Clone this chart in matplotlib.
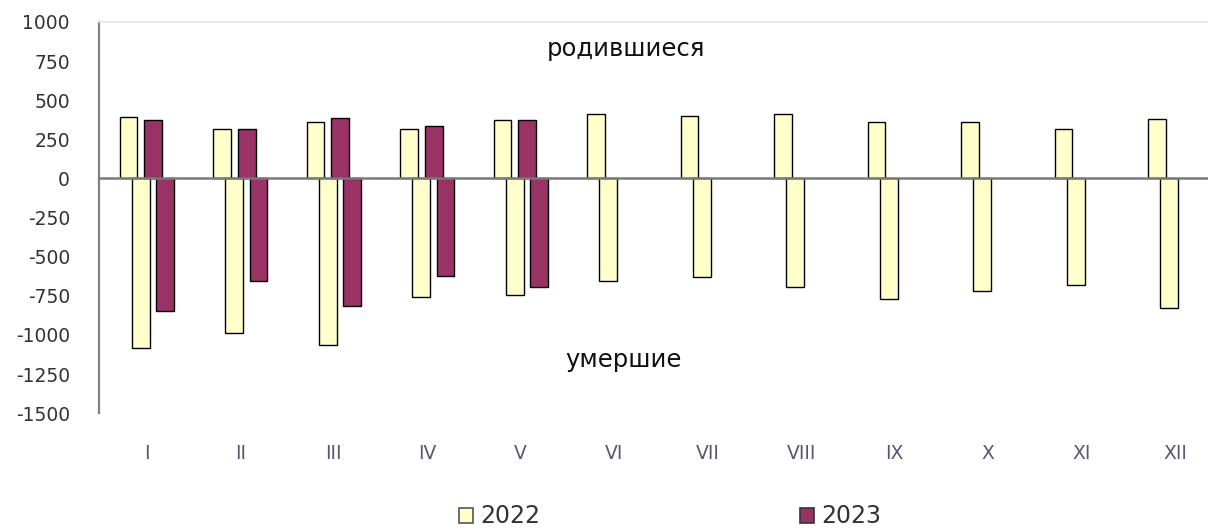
import numpy as np
import matplotlib.pyplot as plt
from matplotlib.patches import Patch

# -----------------------------
# data
# -----------------------------
months = ["I", "II", "III", "IV", "V", "VI", "VII", "VIII", "IX", "X", "XI", "XII"]
births_2022 = [395, 318, 361, 318, 372, 410, 397, 410, 361, 361, 318, 383]
births_2023 = [374, 318, 385, 333, 372]
deaths_2022 = [-1085, -989, -1064, -758, -746, -656, -632, -697, -769, -720, -681, -831]
deaths_2023 = [-846, -656, -818, -622, -694]
years = ["2022", "2023"]

col_2022 = "#FFFFCC"
col_2023 = "#993366"

plt.rcParams['font.family'] = ['DejaVu Sans']
plt.rcParams['axes.unicode_minus'] = False

fig = plt.figure(figsize=(12.08, 5.31), dpi=100)
ax = fig.add_axes([0.082, 0.222, 0.918, 0.7366])

x = np.arange(len(months))
w = 0.19
kw = dict(width=w, edgecolor="black", linewidth=1.0, zorder=3)

# births above zero, deaths below, each year slightly shifted
ax.bar(x - 0.195, births_2022, color=col_2022, **kw)
ax.bar(x - 0.065, deaths_2022, color=col_2022, **kw)
x23 = np.arange(len(births_2023))
ax.bar(x23 + 0.07, births_2023, color=col_2023, **kw)
ax.bar(x23 + 0.195, deaths_2023, color=col_2023, **kw)

ax.axhline(0, color="#7a7a7a", linewidth=1.8, zorder=4)

ax.set_xlim(-0.51, 11.35)
ax.set_ylim(-1500, 1000)
ax.set_yticks(np.arange(-1500, 1001, 250))
ax.set_xticks(x)
ax.set_xticklabels(months)

ax.tick_params(axis="y", length=0, pad=21, labelsize=13.5, labelcolor="#333333")
ax.tick_params(axis="x", length=0, pad=22, labelsize=13.5, labelcolor="#5f5470")

for s in ["right", "bottom"]:
    ax.spines[s].set_visible(False)
ax.spines["left"].set_color("#808080")
ax.spines["left"].set_linewidth(1.6)
ax.spines["top"].set_color("#e4e4e4")
ax.spines["top"].set_linewidth(1.2)

ax.text(5.12, 827, "родившиеся", ha="center", va="center", fontsize=17.5, color="#111111")
ax.text(5.1, -1160, "умершие", ha="center", va="center", fontsize=17.5, color="#111111")

handles = [Patch(facecolor=col_2022, edgecolor="#555555", linewidth=1.2),
           Patch(facecolor=col_2023, edgecolor="#333333", linewidth=1.2)]
fig.legend(handles, years, loc="lower center", bbox_to_anchor=(0.555, -0.035), ncol=2,
           frameon=False, fontsize=17, handlelength=0.6, handleheight=0.6,
           handletextpad=0.3, columnspacing=11, labelcolor="#333333")

fig.savefig("out.png", dpi=100)
